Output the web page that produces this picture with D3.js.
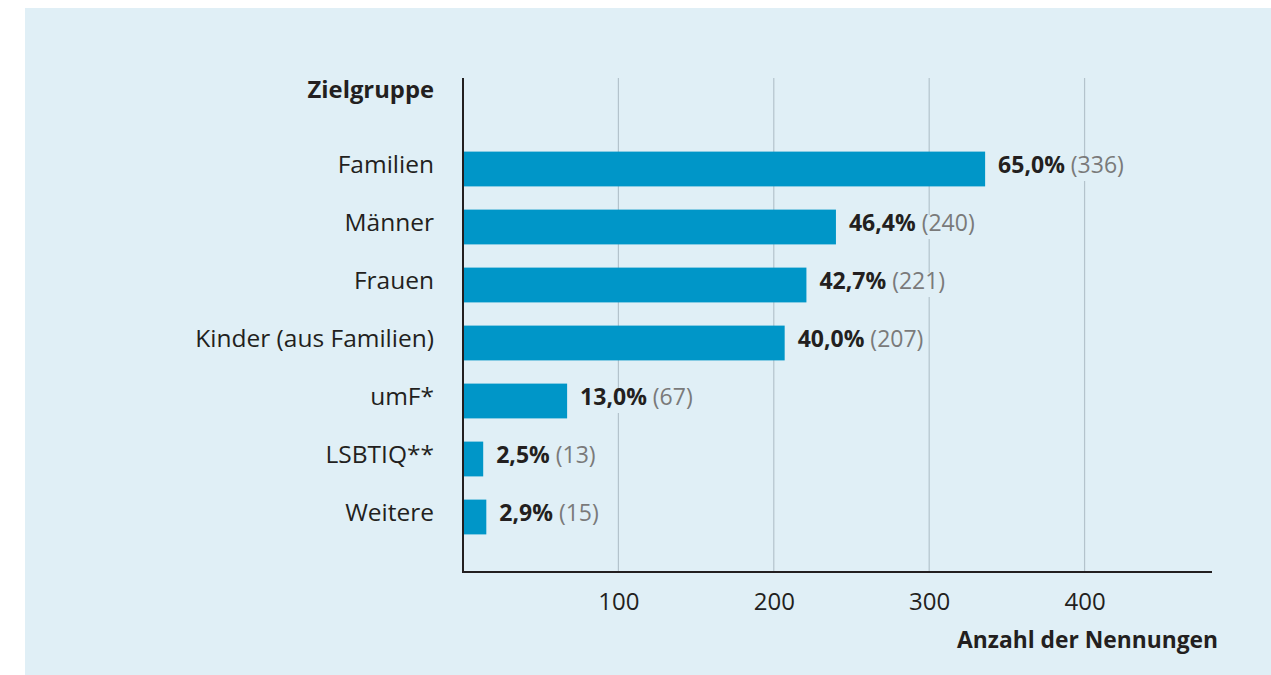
<!DOCTYPE html>
<html>
<head>
<meta charset="utf-8">
<script src="https://cdn.jsdelivr.net/npm/d3@7"></script>
<style>
  body { margin: 0; background: #fff; }
  text { font-family: "Open Sans", "Noto Sans", sans-serif; }
</style>
</head>
<body>
<div id="chart-area"></div>
<script>
const CATEGORIES = ["Familien", "Männer", "Frauen", "Kinder (aus Familien)", "umF*", "LSBTIQ**", "Weitere"]
const COUNTS = [336, 240, 221, 207, 67, 13, 15]
const PERCENTS = ["65,0%", "46,4%", "42,7%", "40,0%", "13,0%", "2,5%", "2,9%"]
const TICKS = [100, 200, 300, 400]

const SVG_WIDTH = 1271
const SVG_HEIGHT = 675
const BG = "#e0eff6"
const BAR = "#0096c8"
const INK = "#231f20"

const data = CATEGORIES.map((c, i) => ({ cat: c, count: COUNTS[i], pct: PERCENTS[i] }))

const svg = d3.select("#chart-area").append("svg")
  .attr("width", SVG_WIDTH)
  .attr("height", SVG_HEIGHT)

// panel
svg.append("rect")
  .attr("x", 25).attr("y", 8)
  .attr("width", SVG_WIDTH - 25).attr("height", SVG_HEIGHT - 8)
  .attr("fill", BG)

const x = d3.scaleLinear()
  .domain([0, 482])
  .range([463, 1212])

const y = d3.scaleBand()
  .domain(CATEGORIES)
  .range([140, 546])
  .paddingInner(0.4)
  .paddingOuter(0.2)

const AXIS_Y = 572

// gridlines
svg.append("g").selectAll("line")
  .data(TICKS)
  .join("line")
  .attr("x1", d => x(d)).attr("x2", d => x(d))
  .attr("y1", 78).attr("y2", AXIS_Y)
  .attr("stroke", "#b4c3cc")
  .attr("stroke-width", 1.2)

// x axis tick labels
const xAxis = d3.axisBottom(x)
  .tickValues(TICKS)
  .tickSize(0)
  .tickPadding(0)
svg.append("g")
  .attr("transform", `translate(0, ${AXIS_Y})`)
  .call(xAxis)
  .call(g => g.select(".domain").remove())
  .selectAll("text")
  .attr("y", 38) // baseline around 610
  .attr("dy", null)
  .attr("font-family", "'Open Sans', 'Noto Sans', sans-serif")
  .attr("font-size", "24px")
  .attr("fill", INK)

svg.append("line")
  .attr("x1", x(0) - 1).attr("x2", x.range()[1])
  .attr("y1", AXIS_Y).attr("y2", AXIS_Y)
  .attr("stroke", INK).attr("stroke-width", 2)

svg.append("line")
  .attr("x1", x(0)).attr("x2", x(0))
  .attr("y1", 78).attr("y2", AXIS_Y)
  .attr("stroke", INK).attr("stroke-width", 2)

svg.append("text")
  .attr("x", 1218).attr("y", 648)
  .attr("text-anchor", "end")
  .attr("font-size", "22.8px")
  .attr("font-weight", "bold")
  .attr("fill", INK)
  .text("Anzahl der Nennungen")

svg.append("text")
  .attr("x", 434).attr("y", 98)
  .attr("text-anchor", "end")
  .attr("font-size", "23.8px")
  .attr("font-weight", "bold")
  .attr("fill", INK)
  .text("Zielgruppe")

// bars
svg.append("g").selectAll("rect")
  .data(data)
  .join("rect")
  .attr("x", x(0) + 1)
  .attr("y", d => y(d.cat))
  .attr("width", d => x(d.count) - x(0) - 1)
  .attr("height", y.bandwidth())
  .attr("fill", BAR)

// category labels
svg.append("g").selectAll("text")
  .data(data)
  .join("text")
  .attr("x", 434)
  .attr("y", d => y(d.cat) + y.bandwidth() / 2 + 4)
  .attr("text-anchor", "end")
  .attr("font-size", "24.5px")
  .attr("fill", INK)
  .text(d => d.cat)

// value labels with background to break the gridlines
const labels = svg.append("g").selectAll("g")
  .data(data)
  .join("g")
  .attr("transform", d => `translate(${x(d.count) + 13}, ${y(d.cat) + y.bandwidth() / 2})`)

labels.append("rect")
  .attr("fill", BG)

const txt = labels.append("text")
  .attr("y", 4)
  .attr("font-size", "23px")
txt.append("tspan")
  .attr("font-weight", "bold")
  .attr("fill", INK)
  .text(d => d.pct)
txt.append("tspan")
  .attr("fill", "#7a7a7a")
  .text(d => " (" + d.count + ")")

txt.each(function () {
  const b = this.getBBox()
  d3.select(this.parentNode).select("rect")
    .attr("x", b.x - 2).attr("y", -12)
    .attr("width", b.width + 4).attr("height", 24)
})
</script>
</body>
</html>
